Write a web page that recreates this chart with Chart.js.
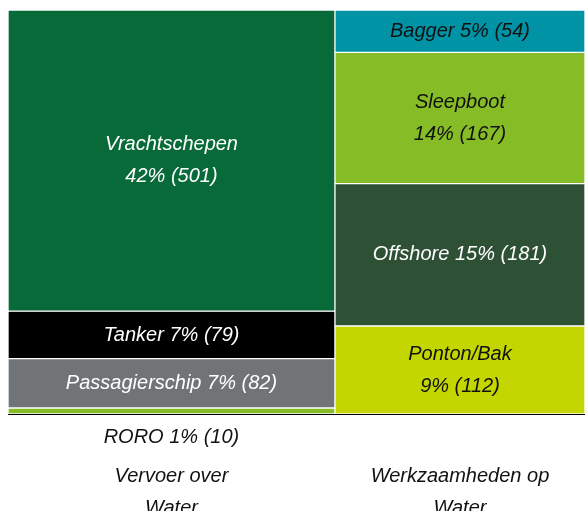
<!DOCTYPE html>
<html>
<head>
<meta charset="utf-8">
<script src="https://cdn.jsdelivr.net/npm/chart.js@4.4.0/dist/chart.umd.min.js"></script>
<style>
  html, body { margin: 0; padding: 0; background: #fff; }
</style>
</head>
<body>
<canvas id="treemap" width="585" height="511"></canvas>
<script>
// x axis groups, each one column of the treemap
var groups = [['Vervoer over', 'Water'], ['Werkzaamheden op', 'Water']];

// cells of each column, top to bottom
var leftNames = ['Vrachtschepen', 'Tanker', 'Passagierschip', 'RORO'];
var leftValues = [501, 79, 82, 10];
var rightNames = ['Bagger', 'Sleepboot', 'Offshore', 'Ponton/Bak'];
var rightValues = [54, 167, 181, 112];

// labels that are split over two lines
var twoLine = ['Vrachtschepen', 'Sleepboot', 'Ponton/Bak'];

// colours
var leftColors = ['#076a38', '#000000', '#717477', '#86bc25'];
var rightColors = ['#0093a5', '#86bc25', '#2e5135', '#c4d600'];
var leftText = ['#fff', '#fff', '#fff', '#111'];
var rightText = ['#111', '#111', '#fff', '#111'];

var FONT = 'italic 20px "Liberation Sans", Arial, sans-serif';

function sum(a) { return a.reduce(function (s, v) { return s + v; }, 0); }

var leftTotal = sum(leftValues);
var rightTotal = sum(rightValues);
var total = leftTotal + rightTotal;

var columns = [
  { names: leftNames, values: leftValues, colors: leftColors, text: leftText, from: 0, size: leftTotal },
  { names: rightNames, values: rightValues, colors: rightColors, text: rightText, from: leftTotal, size: rightTotal }
];

//build one floating bar per cell------
var datasets = [];
columns.forEach(function (col) {
  var acc = 0;
  col.values.forEach(function (v, i) {
    var top = 1 - acc / col.size;
    acc += v;
    datasets.push({
      label: col.names[i],
      data: [{ x: col.from + col.size / 2, y: [1 - acc / col.size, top] }],
      backgroundColor: col.colors[i],
      borderColor: '#fff',
      borderWidth: 1,
      borderSkipped: false,
      grouped: false,
      barThickness: function (ctx) {
        var s = ctx.chart.scales.x;
        return Math.abs(s.getPixelForValue(col.from + col.size) - s.getPixelForValue(col.from));
      },
      textColor: col.text[i],
      value: v
    });
  });
});

var centers = columns.map(function (c) { return c.from + c.size / 2; });

//labels inside the cells----------
var cellLabels = {
  id: 'cellLabels',
  afterDatasetsDraw: function (chart) {
    var ctx = chart.ctx;
    ctx.save();
    ctx.font = FONT;
    ctx.textAlign = 'center';
    ctx.textBaseline = 'middle';
    chart.data.datasets.forEach(function (ds, i) {
      var bar = chart.getDatasetMeta(i).data[0];
      var p = bar.getProps(['x', 'y', 'base'], true);
      var top = Math.min(p.y, p.base), bottom = Math.max(p.y, p.base);
      var pct = Math.round(ds.value / total * 100) + '% (' + ds.value + ')';
      var lines = twoLine.indexOf(ds.label) >= 0 ? [ds.label, pct] : [ds.label + ' ' + pct];
      var cy = (top + bottom) / 2;
      var color = ds.textColor;
      // too small a cell: put its label under the axis line
      if (bottom - top < 20) {
        cy = chart.chartArea.bottom + 23;
        color = '#111';
      }
      ctx.fillStyle = color;
      lines.forEach(function (t, k) {
        ctx.fillText(t, p.x, cy + (k - (lines.length - 1) / 2) * 32);
      });
    });
    ctx.restore();
  }
};

new Chart(document.getElementById('treemap'), {
  type: 'bar',
  data: { datasets: datasets },
  options: {
    responsive: false,
    animation: false,
    layout: { padding: { left: 8, top: 10, right: 0, bottom: 0 } },
    plugins: {
      legend: { display: false },
      tooltip: { enabled: false }
    },
    scales: {
      x: {
        type: 'linear',
        min: 0,
        max: total,
        offset: false,
        grid: { display: false, drawTicks: false },
        border: { display: true, color: '#000', width: 1 },
        afterBuildTicks: function (scale) {
          scale.ticks = centers.map(function (c) { return { value: c }; });
        },
        afterFit: function (scale) {
          scale.height = 97;
          scale.paddingLeft = 0;
          scale.paddingRight = 0;
        },
        ticks: {
          autoSkip: false,
          maxRotation: 0,
          padding: 46,
          color: '#111',
          font: { family: '"Liberation Sans", Arial, sans-serif', size: 20, style: 'italic', lineHeight: '32px' },
          callback: function (value, index) { return groups[index]; }
        }
      },
      y: {
        type: 'linear',
        min: 0,
        max: 1,
        display: false
      }
    }
  },
  plugins: [cellLabels]
});
</script>
</body>
</html>
